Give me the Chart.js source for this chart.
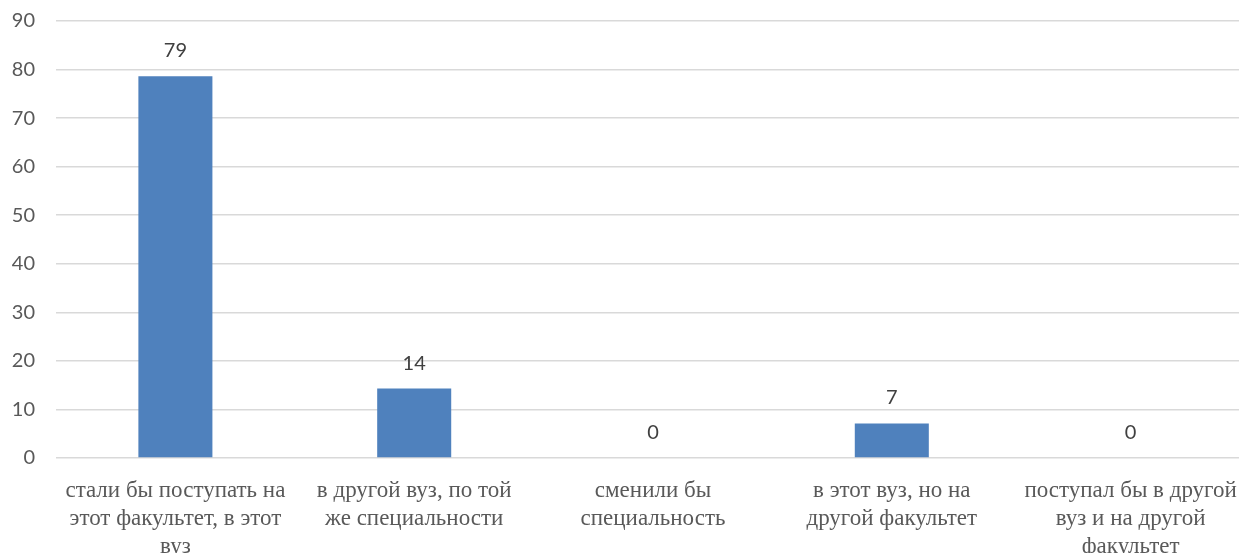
<!DOCTYPE html>
<html>
<head>
<meta charset="utf-8">
<script src="https://cdn.jsdelivr.net/npm/chart.js@4/dist/chart.umd.min.js"></script>
<style>
html,body{margin:0;padding:0;background:#fff;overflow:hidden;width:1239px;height:553px;}
#wrap{width:1250px;height:553px;position:relative;}
</style>
</head>
<body>
<div id="wrap"><canvas id="c" width="1250" height="553"></canvas></div>
<script>
const categories = [
  ["стали бы поступать на", "этот факультет, в этот", "вуз"],
  ["в другой вуз, по той", "же специальности"],
  ["сменили бы", "специальность"],
  ["в этот вуз, но на", "другой факультет"],
  ["поступал бы в другой", "вуз и на другой", "факультет"]
];
const values = [78.6, 14.3, 0, 7.1, 0];
const yTicks = [0, 10, 20, 30, 40, 50, 60, 70, 80, 90];

const valueLabels = {
  id: 'valueLabels',
  afterDatasetsDraw(chart) {
    const ctx = chart.ctx;
    const meta = chart.getDatasetMeta(0);
    ctx.save();
    ctx.font = '20px Lato, "Open Sans", sans-serif';
    ctx.fillStyle = '#404040';
    ctx.textAlign = 'center';
    ctx.textBaseline = 'middle';
    meta.data.forEach((bar, i) => {
      ctx.fillText(String(Math.round(values[i])), bar.x, bar.y - 25.5);
    });
    ctx.restore();
  }
};

new Chart(document.getElementById('c'), {
  type: 'bar',
  data: {
    labels: categories,
    datasets: [{
      data: values,
      backgroundColor: '#4F81BD',
      borderWidth: 0,
      barPercentage: 0.31,
      categoryPercentage: 1.0
    }]
  },
  options: {
    responsive: false,
    animation: false,
    devicePixelRatio: 1,
    layout: { padding: { top: 21, left: 0, right: 0, bottom: 0 } },
    plugins: { legend: { display: false }, tooltip: { enabled: false } },
    scales: {
      y: {
        min: 0, max: 90,
        afterFit(scale) { scale.width = 56; scale.paddingTop = 0; scale.paddingBottom = 0; },
        afterBuildTicks(scale) { scale.ticks = yTicks.map(v => ({ value: v })); },
        border: { display: false },
        grid: { color: '#D9D9D9', lineWidth: 1.5, drawTicks: false },
        ticks: {
          padding: 21,
          color: '#595959',
          font: { family: 'Lato, "Open Sans", sans-serif', size: 20 }
        }
      },
      x: {
        afterFit(scale) { scale.height = 95; scale.paddingLeft = 0; scale.paddingRight = 0; },
        border: { display: false },
        grid: { display: false, drawTicks: false },
        ticks: {
          padding: 19,
          maxRotation: 0,
          minRotation: 0,
          autoSkip: false,
          color: '#595959',
          font: { family: '"Liberation Serif", "Times New Roman", serif', size: 23, lineHeight: 1.22 }
        }
      }
    }
  },
  plugins: [valueLabels]
});
</script>
</body>
</html>
